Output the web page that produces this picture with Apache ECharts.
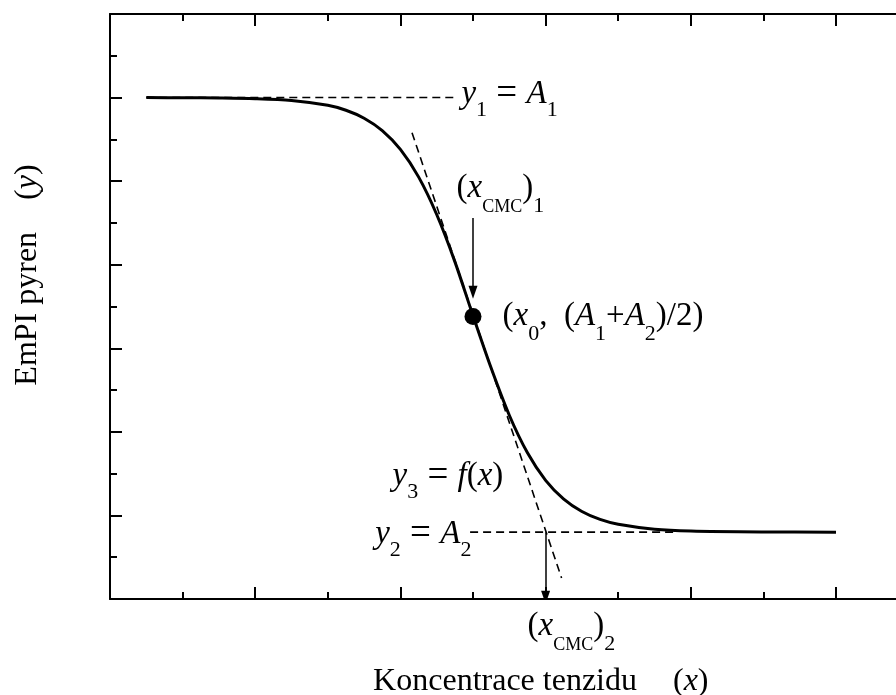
<!DOCTYPE html>
<html><head><meta charset="utf-8">
<script src="https://cdn.jsdelivr.net/npm/echarts@6/dist/echarts.min.js"></script>
<style>html,body{margin:0;padding:0;background:#fff}#c{width:896px;height:695px}</style>
</head><body><div id="c"></div>
<script>
// ---- data ----
const curveX = [0.25, 0.5, 0.75, 1.0, 1.25, 1.5, 1.625, 1.75, 1.875, 2.0, 2.125, 2.25, 2.375, 2.5, 2.625, 2.75, 2.875, 3.0, 3.125, 3.25, 3.375, 3.5, 3.75, 4.0, 4.5, 5.0];
const curveY = [6.00, 5.998, 5.995, 5.987, 5.965, 5.907, 5.848, 5.753, 5.605, 5.380, 5.051, 4.601, 4.037, 3.390, 2.763, 2.199, 1.749, 1.420, 1.195, 1.047, 0.952, 0.894, 0.835, 0.813, 0.802, 0.800];
const A1 = 6.0;
const A2 = 0.8;
const x0 = 2.5;
const yMid = 3.38;
const xCMC2 = 3.0;
const tangentX = [2.08, 3.11];
const tangentY = [5.58, 0.25];
const a1LineX = [0.25, 2.39];
const a2LineX = [2.48, 3.9];
const arrow1Y = [4.56, 3.67];
const arrow2Y = [0.8, 0.02];
const xRange = [0, 5.5];
const yRange = [0, 7];

// ---- styles ----
const SERIF = '"Liberation Serif", "Times New Roman", serif';
const BLACK = '#000';
function rich(mainSize) {
  return {
    t: {fontFamily: SERIF, fontSize: mainSize, color: BLACK},
    e: {fontFamily: SERIF, fontSize: mainSize + 4, color: BLACK},
    i: {fontFamily: SERIF, fontSize: mainSize, fontStyle: 'italic', color: BLACK},
    s: {fontFamily: SERIF, fontSize: 22, color: BLACK, padding: [32, 0, 0, 0]},
    s2: {fontFamily: SERIF, fontSize: 22, color: BLACK, padding: [37, 0, 0, 0]},
    c: {fontFamily: SERIF, fontSize: 18, color: BLACK, padding: [38, 0, 0, 0]},
    padX: {width: 63, height: 10},
    padY: {width: 63, height: 10},
    gap: {width: 36, height: 10},
    gapY: {width: 32, height: 10}
  };
}

const annotations = [
  {pos: [2.424, 6.037], text: '{i|y}{s|1}{e| = }{i|A}{s|1}'},
  {pos: [2.39, 4.912], text: '{t|(}{i|x}{c|CMC}{t|)}{s2|1}'},
  {pos: [2.707, 3.38], text: '{t|(}{i|x}{s2|0}{t|,  (}{i|A}{s2|1}{t|+}{i|A}{s2|2}{t|)/2)}'},
  {pos: [1.949, 1.466], text: '{i|y}{s|3}{e| = }{i|f}{t|(}{i|x}{t|)}'},
  {pos: [1.83, 0.772], text: '{i|y}{s|2}{e| = }{i|A}{s|2}'},
  {pos: [2.879, -0.329], text: '{t|(}{i|x}{c|CMC}{t|)}{s2|2}'}
];

const axisCommon = {
  type: 'value',
  axisLine: {show: true, onZero: false, lineStyle: {color: BLACK, width: 2}},
  axisTick: {show: true, inside: true, length: 12, lineStyle: {color: BLACK, width: 2}},
  minorTick: {show: true, splitNumber: 2, length: 7, lineStyle: {color: BLACK, width: 2}},
  axisLabel: {show: false},
  splitLine: {show: false},
  minorSplitLine: {show: false}
};

const chart = echarts.init(document.getElementById('c'), null, {renderer: 'canvas'});
const dashed = {color: BLACK, width: 1.6, type: [8, 5]};

chart.setOption({
  animation: false,
  backgroundColor: '#fff',
  grid: {left: 110, top: 14, width: 798.6, height: 585, containLabel: false, outerBoundsMode: 'none'},
  xAxis: [
    Object.assign({}, axisCommon, {
      position: 'bottom', min: xRange[0], max: xRange[1], interval: 1,
      name: '{padX|}{t|Koncentrace tenzidu}{gap|}{t|(}{i|x}{t|)}',
      nameLocation: 'middle', nameGap: 67,
      nameTextStyle: {rich: rich(32)}
    }),
    Object.assign({}, axisCommon, {position: 'top', min: xRange[0], max: xRange[1], interval: 1})
  ],
  yAxis: [
    Object.assign({}, axisCommon, {
      position: 'left', min: yRange[0], max: yRange[1], interval: 1,
      name: '{padY|}{t|EmPI pyren}{gapY|}{t|(}{i|y}{t|)}',
      nameLocation: 'middle', nameGap: 66, nameRotate: 90,
      nameTextStyle: {rich: rich(32)}
    }),
    Object.assign({}, axisCommon, {position: 'right', min: yRange[0], max: yRange[1], interval: 1})
  ],
  series: [
    {
      type: 'line', name: 'A1', symbol: 'none', silent: true,
      data: a1LineX.map(x => [x, A1]), lineStyle: dashed, z: 2
    },
    {
      type: 'line', name: 'A2', symbol: 'none', silent: true,
      data: a2LineX.map(x => [x, A2]), lineStyle: dashed, z: 2
    },
    {
      type: 'line', name: 'tangent', symbol: 'none', silent: true,
      data: tangentX.map((x, k) => [x, tangentY[k]]), lineStyle: dashed, z: 2
    },
    {
      type: 'line', name: 'curve', symbol: 'none', smooth: 0.3, silent: true,
      data: curveX.map((x, k) => [x, curveY[k]]),
      lineStyle: {color: BLACK, width: 3}, z: 3
    },
    {
      type: 'lines', coordinateSystem: 'cartesian2d', silent: true,
      symbol: ['none', 'triangle'], symbolSize: [[1, 1], [9, 13]],
      lineStyle: {color: BLACK, width: 1.5, opacity: 1, curveness: 0},
      data: [
        {coords: [[x0, arrow1Y[0]], [x0, arrow1Y[1]]]},
        {coords: [[xCMC2, arrow2Y[0]], [xCMC2, arrow2Y[1]]]}
      ], z: 4
    },
    {
      type: 'scatter', name: 'x0', symbol: 'circle', symbolSize: 17, silent: true,
      itemStyle: {color: BLACK, opacity: 1}, data: [[x0, yMid]], z: 5
    },
    {
      type: 'scatter', name: 'labels', symbolSize: 1, clip: false, silent: true,
      itemStyle: {color: 'rgba(0,0,0,0)', opacity: 1},
      data: annotations.map(a => ({
        value: a.pos,
        label: {formatter: a.text}
      })),
      label: {show: true, position: [0, 0], align: 'left', verticalAlign: 'middle', opacity: 1, rich: rich(33)},
      labelLayout: {hideOverlap: false},
      z: 6
    }
  ]
});
</script>
</body></html>
